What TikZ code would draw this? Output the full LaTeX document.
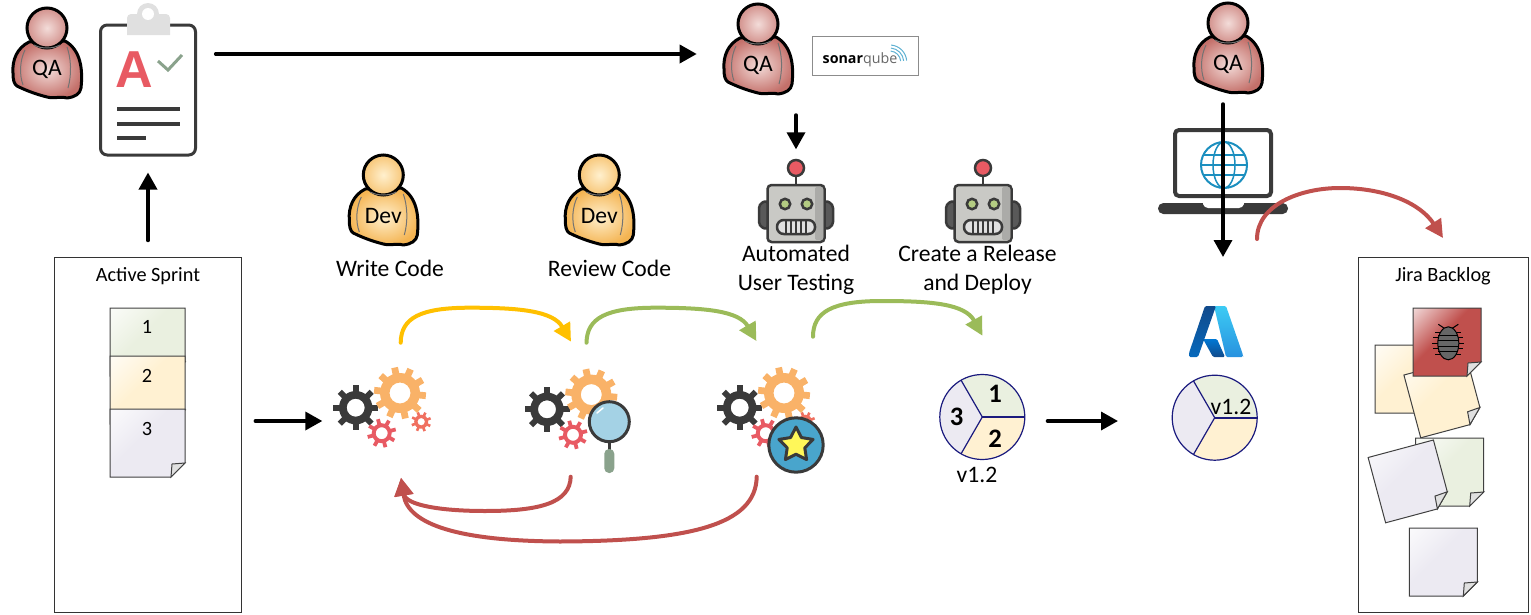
\documentclass[tikz,border=0pt]{standalone}
\usepackage{fontspec}
\setmainfont{Carlito}
\newfontfamily\logofont{Liberation Sans}
\newfontfamily\sonarfont{Open Sans}
\usetikzlibrary{positioning, arrows.meta, shapes.geometric}

\def\px{0.75pt}

\definecolor{inkdark}{HTML}{3A3A3A}
\definecolor{flowyellow}{HTML}{FFC000}
\definecolor{flowgreen}{HTML}{9BBB59}
\definecolor{flowred}{HTML}{C0504D}
\definecolor{notegreen}{HTML}{EAF0E0}
\definecolor{noteyellow}{HTML}{FFF1D2}
\definecolor{notelilac}{HTML}{ECEAF2}
\definecolor{qainner}{HTML}{F3DCD9}
\definecolor{qaouter}{HTML}{C4706A}
\definecolor{devinner}{HTML}{FFF0CE}
\definecolor{devouter}{HTML}{F4B452}
\definecolor{gearorange}{HTML}{F9B268}
\definecolor{gearred}{HTML}{E85A63}
\definecolor{gearcoral}{HTML}{F07060}
\definecolor{robotgrey}{HTML}{C9C9C5}
\definecolor{leafgreen}{HTML}{8AA28C}
\definecolor{globeblue}{HTML}{1B8FBF}
\definecolor{pienavy}{HTML}{1A1A7E}
\definecolor{azuresky}{HTML}{3CCBF4}
\definecolor{azurelight}{HTML}{2892DF}
\definecolor{azuredeep}{HTML}{114A8B}
\definecolor{azuremid}{HTML}{0669BC}
\definecolor{azurefold}{HTML}{0078D4}

\pgfdeclareverticalshading[notecol]{notesheen}{100bp}{color(0bp)=(notecol); color(56bp)=(notecol); color(86bp)=(notecol!20!white); color(100bp)=(white)}

\tikzset{
    flow/.style={-{Triangle[length=12.75pt,width=13.5pt]}, line width=2.6pt, line cap=round},
    loopflow/.style={-{Triangle[length=13.5pt,width=13.5pt]}, line width=3pt, line cap=round},
    listbox/.style={draw=black!80, line width=1*\px, inner sep=0pt},
    caption/.style={font=\fontsize{17.7}{21.75}\selectfont, align=center, inner sep=0pt},
    smalltext/.style={font=\fontsize{15.2}{18}\selectfont, inner sep=0pt},
    bignum/.style={font=\fontsize{20}{22}\selectfont\bfseries, inner sep=0pt},
    pics/note/.style n args={3}{code={
        \colorlet{notecol}{#3}
        \shade[shading=notesheen, shading angle=45] (-#1/2,-#2/2) -- (#1/2,-#2/2) -- (#1/2,#2/2-14) -- (#1/2-14,#2/2) -- (-#1/2,#2/2) -- cycle;
        \draw[black!75, line width=1*\px] (-#1/2,-#2/2) -- (#1/2,-#2/2) -- (#1/2,#2/2-14) -- (#1/2-14,#2/2) -- (-#1/2,#2/2) -- cycle;
        \draw[black!75, fill=black!12, line width=1*\px] (#1/2,#2/2-14) -- (#1/2-13,#2/2-13) -- (#1/2-14,#2/2) -- cycle;
    }},
    pics/person/.style n args={3}{code={
        \node[inner sep=0pt, minimum width=70*\px, minimum height=20*\px] (-body) at (0,30) {};
        \shadedraw[inner color=#2, outer color=#3, draw=black, line width=3*\px, line join=round]
            (-18,14) .. controls (-30,20) and (-35,32) .. (-34,45)
            .. controls (-34,52) and (-33,56) .. (-30,58)
            .. controls (-22,62) and (-12,66) .. (0,69)
            .. controls (8,71) and (12,68) .. (20,70)
            .. controls (28,69) and (33,66) .. (34,60)
            .. controls (36,42) and (34,22) .. (18,13) -- cycle;
        \draw[black!55, line width=1*\px] (-22,22) .. controls (-27,32) and (-28,46) .. (-24,57);
        \draw[black!55, line width=1*\px] (20,19) .. controls (24,30) and (25,46) .. (21,60);
        \shadedraw[inner color=#2, outer color=#3!70!#2, draw=black, line width=3*\px] (0,0) circle[radius=20];
        \draw[black!55, line width=1*\px] (-13,17) .. controls (-6,21) and (6,21) .. (13,17);
        \node[caption] (-label) at (0,41) {#1};
    }},
    pics/gear/.style n args={6}{code={
        \foreach \t in {1,...,#4}
            \fill[#5, rotate=\t*360/#4+#6] (-.13*#1,#2-1) rectangle (.13*#1,#1);
        \fill[#5, even odd rule] (0,0) circle[radius=#2] (0,0) circle[radius=#3];
    }},
    pics/gearset/.style={code={
        \coordinate (-west) at (-22.7,13.3);
        \pic at (65.5,14) {gear={10}{7}{3.7}{8}{gearcoral}{20}};
        \pic at (0,0) {gear={22.5}{16.7}{9}{8}{inkdark}{0}};
        \pic at (44.3,-14.7) {gear={26}{20}{10.5}{10}{gearorange}{12}};
        \pic at (26,25.5) {gear={14.5}{10}{6}{8}{gearred}{15}};
    }},
    pics/robot/.style={code={
        \coordinate (-top) at (0,-10);
        \draw[inkdark, line width=2.5*\px] (0,8) -- (0,17);
        \draw[inkdark, fill=gearred, line width=2.5*\px] (0,0) circle[radius=8];
        \draw[inkdark, fill=black!65, line width=2.5*\px, rounded corners=3pt] (-28,32) -- (-37,36) -- (-37,58) -- (-28,62) -- cycle;
        \draw[inkdark, fill=black!65, line width=2.5*\px, rounded corners=3pt] (28,32) -- (37,36) -- (37,58) -- (28,62) -- cycle;
        \draw[inkdark, fill=robotgrey, line width=2.5*\px, rounded corners=3pt] (-28.5,17) rectangle (28.5,74);
        \fill[robotgrey!85!black, rounded corners=1pt] (19,19) rectangle (27,72);
        \draw[inkdark, fill=flowgreen!75!white, line width=2.5*\px] (-11,36) circle[radius=5.2];
        \draw[inkdark, fill=flowgreen!75!white, line width=2.5*\px] (11,36) circle[radius=5.2];
        \draw[inkdark, fill=black!12, line width=2.5*\px, rounded corners=5pt] (-19,52) rectangle (19,66);
        \foreach \b in {-10,-5,0,5,10}
            \draw[inkdark, line width=1.5*\px] (\b,52) -- (\b,66);
    }},
    pics/pie/.style={code={
        \coordinate (-east) at (42.5,4);
        \fill[notegreen] (0,0) -- (-120:42.5) arc[start angle=-120, end angle=0, radius=42.5] -- cycle;
        \fill[noteyellow] (0,0) -- (0:42.5) arc[start angle=0, end angle=120, radius=42.5] -- cycle;
        \fill[notelilac] (0,0) -- (120:42.5) arc[start angle=120, end angle=240, radius=42.5] -- cycle;
        \draw[pienavy, line width=1.2*\px] (-120:42.5) -- (0,0) -- (120:42.5);
        \draw[pienavy, line width=2*\px] (0,0) -- (0:42.5);
        \draw[pienavy, line width=1.2*\px] (0,0) circle[radius=42.5];
    }},
}

\begin{document}
\begin{tikzpicture}[x=\px, y=-\px]
    \useasboundingbox (0,0) rectangle (1531,614);

    \node[listbox, minimum width=187*\px, minimum height=355*\px] (sprint) at (148,434.5) {};
    \node[smalltext] (sprinttitle) at (148,276.5) {Active Sprint};
    \pic (sprintA) at (147.5,342) {note={75}{68}{notegreen}};
    \pic (sprintB) at (147.5,390) {note={75}{68}{noteyellow}};
    \pic (sprintC) at (147.5,443) {note={75}{68}{notelilac}};
    \node[smalltext] (sprintone) at (147,327) {1};
    \node[smalltext] (sprinttwo) at (147,376) {2};
    \node[smalltext] (sprintthree) at (147,429) {3};

    \pic (qaplan) at (47,28) {person={QA}{qainner}{qaouter}};
    \node[draw=inkdark, line width=3*\px, rounded corners=5pt, minimum width=95*\px, minimum height=130*\px, inner sep=0pt] (clip) at (148,90) {};
    \fill[black!12] (127,35) {[rounded corners=3pt] -- (127,14) -- (170,14)} -- (170,35) -- cycle;
    \fill[black!12] (148,14) circle[radius=11];
    \fill[white] (148,14) circle[radius=6];
    \node[inner sep=0pt, text=gearred, font=\fontsize{39}{39}\selectfont\logofont\bfseries] (clipgrade) at (134.6,70) {A};
    \draw[leafgreen, line width=3*\px] (158,61) -- (168,70) -- (182,55);
    \draw[inkdark, line width=3.5*\px] (117,109) -- (180,109);
    \draw[inkdark, line width=3.5*\px] (117,124) -- (180,124);
    \draw[inkdark, line width=3.5*\px] (117,138) -- (146,138);

    \pic (qatest) at (758,24) {person={QA}{qainner}{qaouter}};
    \node[draw=black!45, line width=1*\px, minimum width=106*\px, minimum height=39*\px, inner sep=0pt] (sonarbox) at (865,55.5) {};
    \node[inner sep=0pt, font=\fontsize{10.7}{12}\selectfont\sonarfont] (sonarname) at (860,59.5) {\textbf{sonar}\textcolor{black!60}{qube}};
    \foreach \r in {11,14,17}
        \draw[globeblue!70, line width=1*\px] (889.7,62) ++(-85:\r) arc[start angle=-85, end angle=-5, radius=\r];

    \pic (qaverify) at (1228,23) {person={QA}{qainner}{qaouter}};
    \node[draw=inkdark, fill=white, line width=4*\px, rounded corners=3pt, minimum width=96*\px, minimum height=66*\px, inner sep=0pt] (laptop) at (1223,163) {};
    \fill[inkdark, rounded corners=4pt] (1158,203) -- (1288,203) -- (1288,214) -- (1158,214) -- cycle;
    \fill[white, rounded corners=3pt] (1202,200) -- (1245,200) -- (1243,208) -- (1204,208) -- cycle;
    \begin{scope}[shift={(1224,165)}, globeblue, line width=1.5*\px]
        \draw[line width=2*\px] (0,0) circle[radius=23];
        \draw (0,0) ellipse[x radius=11, y radius=23];
        \draw (0,-23) -- (0,23);
        \draw (-20.7,-10) -- (20.7,-10);
        \draw (-23,0) -- (23,0);
        \draw (-20.7,10) -- (20.7,10);
    \end{scope}

    \pic (devwrite) at (383.3,175) {person={Dev}{devinner}{devouter}};
    \pic (devreview) at (599.3,175) {person={Dev}{devinner}{devouter}};
    \node[caption] (writelabel) at (390,268) {Write Code};
    \node[caption] (reviewlabel) at (609.5,268) {Review Code};

    \pic (robottest) at (796,168) {robot};
    \pic (robotrelease) at (983,168) {robot};
    \node[caption] (testlabel) at (796,270) {Automated\\User Testing};
    \node[caption] (releaselabel) at (977.5,270) {Create a Release\\and Deploy};

    \pic (gearsA) at (355.7,407.7) {gearset};
    \pic (gearsB) at (547,409.3) {gearset};
    \pic (gearsC) at (739.7,407.7) {gearset};

    \draw[inkdark, line width=3*\px] (609.3,442) -- (609.3,452);
    \draw[inkdark, fill=globeblue!40!white, line width=3*\px] (609.3,421.7) circle[radius=20];
    \draw[white, line width=1.5*\px, line cap=round] (597,413) -- (603,408);
    \fill[leafgreen, rounded corners=3.5pt] (604.3,449) rectangle (614.3,473);
    \draw[inkdark, fill=globeblue!80!white, line width=3*\px] (796,445) circle[radius=27.2];
    \node[star, star points=5, star point ratio=1.95, draw=inkdark, fill=yellow!65!white, line width=3*\px, line join=round, minimum size=36*\px, inner sep=0pt] (badge) at (796,445) {};

    \pic (pieA) at (982.3,417) {pie};
    \node[bignum] (pieone) at (995,394) {1};
    \node[bignum] (pietwo) at (995,439) {2};
    \node[bignum] (piethree) at (956.7,417) {3};
    \node[caption] (pieversion) at (977,475) {v1.2};

    \begin{scope}[rounded corners=1pt]
        \shade[top color=azuresky, bottom color=azurelight] (1214,306) -- (1226,306) -- (1243,355) -- (1243,357) -- (1226,357) -- cycle;
        \shade[top color=azurefold, bottom color=azuredeep] (1203,339) -- (1217,339) -- (1225,357) -- (1213,357) -- cycle;
        \shade[top color=azuredeep, bottom color=azuremid] (1205,306) -- (1216,306) -- (1198,357) -- (1189,357) -- (1189,353) -- cycle;
    \end{scope}
    \pic (pieB) at (1214.7,417.7) {pie};
    \node[caption] (azureversion) at (1231,407) {v1.2};

    \node[listbox, minimum width=170*\px, minimum height=355*\px] (backlog) at (1443,434.5) {};
    \node[smalltext] (backlogtitle) at (1443,276.5) {Jira Backlog};
    \pic (itemA) at (1409,379) {note={68}{68}{noteyellow}};
    \pic[rotate=15] (itemB) at (1443.7,398) {note={65}{65}{noteyellow}};
    \pic (itemC) at (1447,342) {note={68}{68}{flowred}};
    \begin{scope}[shift={(1448.3,343.3)}]
        \foreach \r/\s in {-11/13,-5.5/15,0/16,5.5/15,11/13}
            \draw[black, line width=1*\px] (-\s,\r) -- (\s,\r);
        \draw[black, line width=1*\px] (-4,-15) -- (-10,-19);
        \draw[black, line width=1*\px] (4,-15) -- (10,-19);
        \draw[black, fill=black!60, line width=1*\px] (0,0) ellipse[x radius=10.5, y radius=16.5];
        \foreach \r in {-8,-3,3,8}
            \draw[black, line width=.8*\px] (-10,\r) -- (10,\r);
    \end{scope}
    \pic (itemD) at (1449.7,472) {note={68}{68}{notegreen}};
    \pic[rotate=15] (itemE) at (1409.5,481.4) {note={67.6}{67.6}{notelilac}};
    \pic (itemF) at (1443.3,562) {note={68}{68}{notelilac}};

    \coordinate (testin) at (796,115);
    \coordinate (deployfrom) at (1223,104);
    \coordinate (deployto) at (1223,257);
    \coordinate (azurein) at (1118,421);
    \coordinate (writeout) at (400.7,342.7);
    \coordinate (reviewin) at (571,341.7);
    \coordinate (reviewout) at (586.5,342.7);
    \coordinate (testtip) at (756.4,341);
    \coordinate (testout) at (813,336.7);
    \coordinate (releasein) at (982.4,335.7);
    \coordinate (reviewback) at (570.7,476.7);
    \coordinate (testback) at (756.7,476.7);
    \coordinate (writein) at (401,477.7);
    \coordinate (azureout) at (1257,239);
    \coordinate (backlogin) at (1443,238);

    \draw[flow, shorten <=12pt, shorten >=12pt] (sprint.north) -- (clip.south);
    \draw[flow, shorten <=14pt, shorten >=19.5pt] (clip.east |- qatest-body.west) -- (qatest-body.west);
    \draw[flow, shorten >=6.5pt] (testin) -- (robottest-top);
    \draw[flow] (deployfrom) -- (deployto);
    \draw[flow, shorten <=10pt, shorten >=8pt] (sprint.east |- gearsA-west) -- (gearsA-west);
    \draw[flow, shorten <=17pt] (pieA-east) -- (azurein);

    \draw[loopflow, flowyellow] (writeout) .. controls (401,318) and (420,307.7) .. (470,307.7) .. controls (520,307.7) and (553,311) .. (reviewin);
    \draw[loopflow, flowgreen] (reviewout) .. controls (587,318) and (606,307.7) .. (656,307.7) .. controls (706,307.7) and (739,311) .. (testtip);
    \draw[loopflow, flowgreen] (testout) .. controls (813,312) and (832,301) .. (882,301) .. controls (932,301) and (965,304) .. (releasein);
    \draw[loopflow, flowred] (reviewback) .. controls (570,503) and (540,511) .. (485,511) .. controls (440,511) and (406,505) .. (writein);
    \draw[loopflow, flowred] (testback) .. controls (756,525) and (690,541) .. (560,541.5) .. controls (460,541) and (408,525) .. (writein);
    \draw[loopflow, flowred] (azureout) .. controls (1257,205) and (1300,188) .. (1340,188) .. controls (1385,188) and (1420,203) .. (backlogin);
\end{tikzpicture}
\end{document}
